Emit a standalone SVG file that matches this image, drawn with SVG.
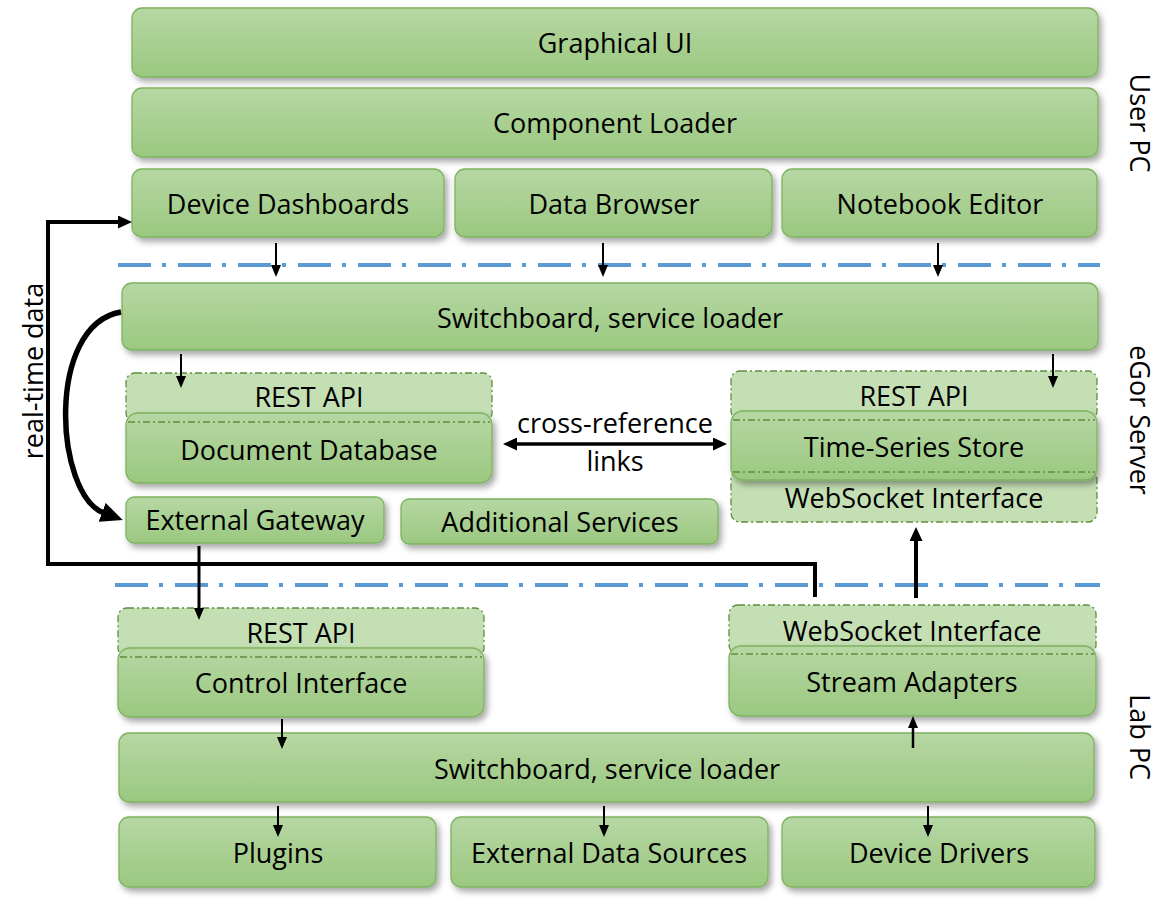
<svg xmlns="http://www.w3.org/2000/svg" width="1158" height="900" viewBox="0 0 1158 900">
<style>
.box{fill:url(#g);stroke:#7DB35E;stroke-width:1.3;filter:url(#sh)}
.dbox{fill:#C5DFB4;stroke:#5E8E3E;stroke-width:1.3;stroke-dasharray:7 3 2 3}
.seam{stroke:#5E8E3E;stroke-width:1.3;stroke-dasharray:7 3 2 3;fill:none}
.t{font-family:"Open Sans","Noto Sans","Liberation Sans",sans-serif;font-size:27px;fill:#000;text-anchor:middle;dominant-baseline:central}
.sep{stroke:#5B9BD5;stroke-width:4;stroke-dasharray:33 11 4 12;fill:none}
.a{stroke:#000;fill:none}
</style>
<defs>
<linearGradient id="g" x1="0" y1="0" x2="0" y2="1">
<stop offset="0" stop-color="#B6D7A3"/>
<stop offset="1" stop-color="#9BC880"/>
</linearGradient>
<filter id="sh" x="-5%" y="-20%" width="110%" height="150%">
<feDropShadow dx="3" dy="4" stdDeviation="3" flood-color="#000" flood-opacity="0.35"/>
</filter>
<marker id="ahS" markerUnits="userSpaceOnUse" markerWidth="12" markerHeight="10" viewBox="0 0 12 10" refX="2" refY="5" orient="auto"><path d="M0,0 L12,5 L0,10 z" fill="#000"/></marker>
<marker id="ahM" markerUnits="userSpaceOnUse" markerWidth="14" markerHeight="13" viewBox="0 0 14 13" refX="2" refY="6.5" orient="auto-start-reverse"><path d="M0,0 L14,6.5 L0,13 z" fill="#000"/></marker>
<marker id="ahB" markerUnits="userSpaceOnUse" markerWidth="22" markerHeight="20" viewBox="0 0 22 20" refX="2" refY="10" orient="auto"><path d="M0,0 L22,10 L0,20 z" fill="#000"/></marker>
</defs>
<rect width="1158" height="900" fill="#fff"/>

<g id="separators">
<line class="sep" x1="118" y1="265" x2="1100" y2="265"/>
<line class="sep" x1="115" y1="585" x2="1100" y2="585"/>
</g>

<g id="graphical-ui"><rect class="box" x="132" y="8" width="966" height="69" rx="10"/><text class="t" x="615" y="42">Graphical UI</text></g>
<g id="component-loader"><rect class="box" x="132" y="88" width="966" height="69" rx="10"/><text class="t" x="615" y="122">Component Loader</text></g>
<g id="device-dashboards"><rect class="box" x="132" y="169" width="312" height="68" rx="10"/><text class="t" x="288" y="203">Device Dashboards</text></g>
<g id="data-browser"><rect class="box" x="455" y="169" width="317" height="68" rx="10"/><text class="t" x="614" y="203">Data Browser</text></g>
<g id="notebook-editor"><rect class="box" x="782" y="169" width="315" height="68" rx="10"/><text class="t" x="940" y="203">Notebook Editor</text></g>

<g id="server-switchboard"><rect class="box" x="122" y="283" width="976" height="67" rx="10"/><text class="t" x="610" y="317">Switchboard, service loader</text></g>

<g id="server-rest-left"><rect class="dbox" x="126" y="373" width="366" height="49" rx="9"/><text class="t" x="309" y="396">REST API</text></g>
<g id="document-database"><rect class="box" x="126" y="413" width="366" height="70" rx="12"/><line class="seam" x1="128" y1="422" x2="490" y2="422"/><text class="t" x="309" y="449">Document Database</text></g>

<g id="server-rest-right"><rect class="dbox" x="731" y="371" width="366" height="49" rx="9"/><text class="t" x="914" y="395">REST API</text></g>
<g id="server-websocket"><rect class="dbox" x="731" y="470" width="366" height="52" rx="9"/><text class="t" x="914" y="497">WebSocket Interface</text></g>
<g id="time-series-store"><rect class="box" x="731" y="411" width="366" height="69" rx="12"/><line class="seam" x1="733" y1="420" x2="1095" y2="420"/><line class="seam" x1="733" y1="472" x2="1095" y2="472"/><text class="t" x="914" y="446">Time-Series Store</text></g>

<g id="external-gateway"><rect class="box" x="126" y="497" width="258" height="46" rx="8"/><text class="t" x="255" y="519">External Gateway</text></g>
<g id="additional-services"><rect class="box" x="401" y="499" width="317" height="45" rx="8"/><text class="t" x="560" y="521">Additional Services</text></g>

<g id="lab-rest"><rect class="dbox" x="118" y="608" width="366" height="49" rx="9"/><text class="t" x="301" y="632">REST API</text></g>
<g id="control-interface"><rect class="box" x="118" y="648" width="366" height="69" rx="12"/><line class="seam" x1="120" y1="657" x2="482" y2="657"/><text class="t" x="301" y="682">Control Interface</text></g>

<g id="lab-websocket"><rect class="dbox" x="729" y="605" width="367" height="49" rx="9"/><text class="t" x="912" y="630">WebSocket Interface</text></g>
<g id="stream-adapters"><rect class="box" x="729" y="646" width="367" height="70" rx="12"/><line class="seam" x1="731" y1="654" x2="1094" y2="654"/><text class="t" x="912" y="681">Stream Adapters</text></g>

<g id="lab-switchboard"><rect class="box" x="119" y="733" width="975" height="69" rx="10"/><text class="t" x="607" y="768">Switchboard, service loader</text></g>
<g id="plugins"><rect class="box" x="119" y="817" width="317" height="70" rx="10"/><text class="t" x="278" y="852">Plugins</text></g>
<g id="external-data-sources"><rect class="box" x="451" y="817" width="317" height="70" rx="10"/><text class="t" x="609" y="852">External Data Sources</text></g>
<g id="device-drivers"><rect class="box" x="782" y="817" width="313" height="70" rx="10"/><text class="t" x="939" y="852">Device Drivers</text></g>

<g id="labels">
<text class="t" transform="translate(1140,123) rotate(90)">User PC</text>
<text class="t" transform="translate(1140,420) rotate(90)">eGor Server</text>
<text class="t" transform="translate(1140,737) rotate(90)">Lab PC</text>
<text class="t" transform="translate(32,371) rotate(-90)">real-time data</text>
<text class="t" x="615" y="422">cross-reference</text>
<text class="t" x="615" y="460">links</text>
</g>

<g id="connectors">
<line class="a" stroke-width="2" x1="276" y1="243" x2="276" y2="267" marker-end="url(#ahS)"/>
<line class="a" stroke-width="2" x1="603" y1="243" x2="603" y2="267" marker-end="url(#ahS)"/>
<line class="a" stroke-width="2" x1="938" y1="243" x2="938" y2="267" marker-end="url(#ahS)"/>
<line class="a" stroke-width="2" x1="181" y1="354" x2="181" y2="378" marker-end="url(#ahS)"/>
<line class="a" stroke-width="2" x1="1053" y1="354" x2="1053" y2="378" marker-end="url(#ahS)"/>
<line class="a" stroke-width="3.5" x1="515" y1="444" x2="715" y2="444" marker-start="url(#ahM)" marker-end="url(#ahM)"/>
<path class="a" stroke-width="5.5" d="M121 312 C45 325 55 495 104 513" marker-end="url(#ahB)"/>
<path class="a" stroke-width="4" d="M815 597 V564 H48 V222 H120" marker-end="url(#ahM)"/>
<line class="a" stroke-width="3" x1="199" y1="546" x2="199" y2="610" marker-end="url(#ahS)"/>
<line class="a" stroke-width="4" x1="916" y1="598" x2="916" y2="539" marker-end="url(#ahM)"/>
<line class="a" stroke-width="2" x1="282" y1="719" x2="282" y2="739" marker-end="url(#ahS)"/>
<line class="a" stroke-width="2.5" x1="913" y1="748" x2="913" y2="726" marker-end="url(#ahS)"/>
<line class="a" stroke-width="2" x1="278" y1="806" x2="278" y2="827" marker-end="url(#ahS)"/>
<line class="a" stroke-width="2" x1="604" y1="806" x2="604" y2="827" marker-end="url(#ahS)"/>
<line class="a" stroke-width="2" x1="928" y1="806" x2="928" y2="827" marker-end="url(#ahS)"/>
</g>
</svg>
